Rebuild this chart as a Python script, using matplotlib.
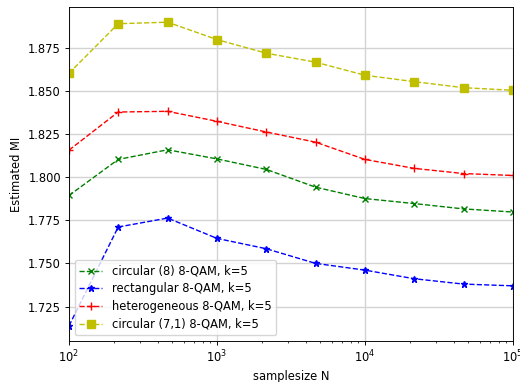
import numpy as np
import matplotlib
matplotlib.use("Agg")
import matplotlib.pyplot as plt

samplesize = [100, 215, 464, 1000, 2154, 4642, 10000, 21544, 46416, 100000]

mi_circular8 = [1.7894, 1.8103, 1.8159, 1.8106, 1.8045, 1.7942, 1.7876, 1.7847, 1.7816, 1.7798]
mi_rectangular = [1.7138, 1.7711, 1.7763, 1.7645, 1.7585, 1.7500, 1.7461, 1.7411, 1.7380, 1.7370]
mi_heterogeneous = [1.8157, 1.8378, 1.8382, 1.8324, 1.8262, 1.8203, 1.8103, 1.8051, 1.8021, 1.8010]
mi_circular71 = [1.8603, 1.8890, 1.8899, 1.8798, 1.8719, 1.8667, 1.8591, 1.8554, 1.8519, 1.8504]

labels = [
    "circular (8) 8-QAM, k=5",
    "rectangular 8-QAM, k=5",
    "heterogeneous 8-QAM, k=5",
    "circular (7,1) 8-QAM, k=5",
]

s = 0.83
plt.rcParams.update({
    "font.size": 10 * s,
    "axes.linewidth": 0.8 * s,
    "axes.labelpad": 4 * s,
    "xtick.major.pad": 3.5 * s,
    "ytick.major.pad": 3.5 * s,
    "xtick.major.width": 0.8 * s,
    "ytick.major.width": 0.8 * s,
    "xtick.minor.width": 0.6 * s,
    "xtick.major.size": 3.5 * s,
    "ytick.major.size": 3.5 * s,
    "xtick.minor.size": 2 * s,
    "legend.labelspacing": 0.4,
})

fig = plt.figure(figsize=(5.2, 3.82), dpi=100)
ax = fig.add_axes([0.1327, 0.1073, 0.8538, 0.8744])

lw = 1.0
ax.plot(samplesize, mi_circular8, "g--x", lw=lw, ms=6 * s, label=labels[0])
ax.plot(samplesize, mi_rectangular, "b--*", lw=lw, ms=6 * s, label=labels[1])
ax.plot(samplesize, mi_heterogeneous, "r--+", lw=lw, ms=7 * s, label=labels[2])
ax.plot(samplesize, mi_circular71, "y--s", lw=lw, ms=6.5 * s, label=labels[3])

ax.set_xscale("log")
ax.set_xlim(100, 100000)
ax.grid(True, which="major", color="lightgray", lw=1)
ax.set_axisbelow(True)
ax.set_xlabel("samplesize N")
ax.set_ylabel("Estimated MI")
ax.legend(loc="lower left")

fig.savefig("out.png", dpi=100)
